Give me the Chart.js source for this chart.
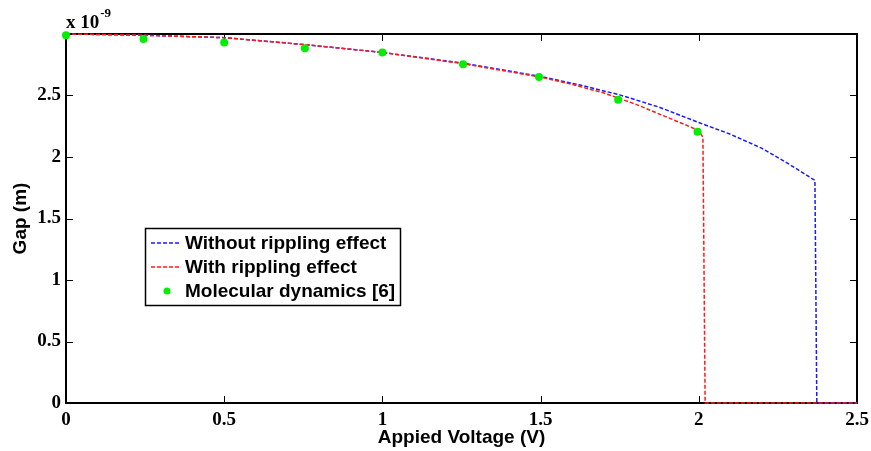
<!DOCTYPE html>
<html>
<head>
<meta charset="utf-8">
<script src="https://cdn.jsdelivr.net/npm/chart.js@4/dist/chart.umd.min.js"></script>
<style>
  html, body { margin: 0; padding: 0; background: #fff; }
  #wrap { width: 871px; height: 451px; }
</style>
</head>
<body>
<div id="wrap"><canvas id="gapChart" width="871" height="451"></canvas></div>
<script>
// gap values are in units of 1e-9 m (axis multiplier drawn as "x 10^-9")
const voltageNoRipple = [0, 0.25, 0.5, 0.75, 1.0, 1.25, 1.5, 1.625, 1.75, 1.875, 2.0, 2.1, 2.2, 2.28, 2.367, 2.373, 2.5];
const gapNoRipple     = [3.0, 2.99, 2.97, 2.915, 2.85, 2.765, 2.655, 2.585, 2.505, 2.405, 2.28, 2.185, 2.07, 1.95, 1.81, 0, 0];

const voltageRipple = [0, 0.25, 0.5, 0.75, 1.0, 1.25, 1.5, 1.6, 1.7, 1.8, 1.87, 1.95, 2.0, 2.013, 2.02, 2.5];
const gapRipple     = [3.0, 2.99, 2.97, 2.915, 2.85, 2.76, 2.65, 2.59, 2.52, 2.43, 2.355, 2.27, 2.215, 2.16, 0, 0];

const voltageMD = [0, 0.245, 0.5, 0.755, 1.0, 1.255, 1.495, 1.745, 1.996];
const gapMD     = [2.99, 2.96, 2.93, 2.885, 2.85, 2.755, 2.65, 2.465, 2.205];

const xTicks = [0, 0.5, 1, 1.5, 2, 2.5];
const yTicks = [0, 0.5, 1, 1.5, 2, 2.5, 3];

const seriesNames = ['Without rippling effect', 'With rippling effect', 'Molecular dynamics [6]'];
const seriesColors = ['#1a1aff', '#ff1a1a', '#00ee00'];

const toPoints = (xs, ys) => xs.map((x, i) => ({ x, y: ys[i] }));

// box, inward ticks on all four sides, exponent label, legend
const matlabAxes = {
  id: 'matlabAxes',
  beforeDatasetsDraw(chart) {
    const { ctx, chartArea: a, scales } = chart;
    ctx.save();
    ctx.strokeStyle = '#000';
    ctx.lineWidth = 1;
    ctx.beginPath();
    xTicks.forEach(v => {
      const px = Math.round(scales.x.getPixelForValue(v)) + 0.5;
      ctx.moveTo(px, a.bottom); ctx.lineTo(px, a.bottom - 7);
      ctx.moveTo(px, a.top); ctx.lineTo(px, a.top + 7);
    });
    yTicks.forEach(v => {
      const py = Math.round(scales.y.getPixelForValue(v)) + 0.5;
      ctx.moveTo(a.left, py); ctx.lineTo(a.left + 7, py);
      ctx.moveTo(a.right, py); ctx.lineTo(a.right - 7, py);
    });
    ctx.stroke();
    ctx.lineWidth = 2;
    ctx.strokeRect(a.left, a.top, a.right - a.left, a.bottom - a.top);

    ctx.fillStyle = '#000';
    ctx.textBaseline = 'alphabetic';
    ctx.textAlign = 'left';
    ctx.font = 'bold 19px "Liberation Serif"';
    ctx.fillText('x 10', a.left, 28);
    const w = ctx.measureText('x 10').width;
    ctx.font = 'bold 13px "Liberation Serif"';
    ctx.fillText('-9', a.left + w + 1, 17);
    ctx.restore();
  },
  afterDraw(chart) {
    const { ctx } = chart;
    const box = { x: 145, y: 228, w: 255, h: 77 };
    ctx.save();
    ctx.fillStyle = '#fff';
    ctx.fillRect(box.x, box.y, box.w, box.h);
    ctx.strokeStyle = '#000';
    ctx.lineWidth = 1.5;
    ctx.strokeRect(box.x + 0.5, box.y + 0.5, box.w, box.h);
    const rows = [243, 267, 291];
    ctx.font = 'bold 19px "Liberation Sans"';
    ctx.textBaseline = 'middle';
    ctx.textAlign = 'left';
    rows.forEach((ry, i) => {
      if (i < 2) {
        ctx.strokeStyle = seriesColors[i];
        ctx.lineWidth = 1.5;
        ctx.setLineDash([4, 2]);
        ctx.beginPath();
        ctx.moveTo(151, ry);
        ctx.lineTo(181, ry);
        ctx.stroke();
        ctx.setLineDash([]);
      } else {
        ctx.fillStyle = seriesColors[i];
        ctx.beginPath();
        ctx.arc(167, ry, 3.5, 0, Math.PI * 2);
        ctx.fill();
      }
      ctx.fillStyle = '#000';
      ctx.fillText(seriesNames[i], 185, ry + 1);
    });
    ctx.restore();
  }
};

new Chart(document.getElementById('gapChart').getContext('2d'), {
  type: 'scatter',
  data: {
    datasets: [
      {
        label: seriesNames[0],
        data: toPoints(voltageNoRipple, gapNoRipple),
        showLine: true,
        borderColor: seriesColors[0],
        borderWidth: 1.5,
        borderDash: [4, 2],
        pointRadius: 0,
        clip: false,
        order: 3
      },
      {
        label: seriesNames[1],
        data: toPoints(voltageRipple, gapRipple),
        showLine: true,
        borderColor: seriesColors[1],
        borderWidth: 1.5,
        borderDash: [4, 2],
        pointRadius: 0,
        clip: false,
        order: 2
      },
      {
        label: seriesNames[2],
        data: toPoints(voltageMD, gapMD),
        showLine: false,
        pointRadius: 4,
        pointBackgroundColor: seriesColors[2],
        pointBorderWidth: 0,
        borderColor: seriesColors[2],
        clip: false,
        order: 1
      }
    ]
  },
  options: {
    responsive: false,
    animation: false,
    layout: { padding: { top: 34, right: 14, left: 0, bottom: 0 } },
    plugins: { legend: { display: false }, tooltip: { enabled: false } },
    scales: {
      x: {
        type: 'linear',
        min: 0,
        max: 2.5,
        afterFit: s => { s.height = 48; s.paddingLeft = 0; s.paddingRight = 0; },
        afterBuildTicks: s => { s.ticks = xTicks.map(v => ({ value: v })); },
        grid: { display: false, drawTicks: false },
        border: { display: false },
        ticks: {
          padding: 6,
          color: '#000',
          maxRotation: 0,
          font: { family: '"Liberation Serif"', size: 19, weight: 'bold' },
          callback: v => String(v)
        },
        title: {
          display: true,
          text: 'Appied Voltage (V)',
          color: '#000',
          padding: 2,
          font: { family: '"Liberation Sans"', size: 19, weight: 'bold' }
        }
      },
      y: {
        type: 'linear',
        min: 0,
        max: 3,
        afterFit: s => { s.width = 66; s.paddingTop = 0; s.paddingBottom = 0; },
        afterBuildTicks: s => { s.ticks = yTicks.map(v => ({ value: v })); },
        grid: { display: false, drawTicks: false },
        border: { display: false },
        ticks: {
          padding: 5,
          color: '#000',
          font: { family: '"Liberation Serif"', size: 19, weight: 'bold' },
          callback: v => (v === 3 ? '' : String(v))
        },
        title: {
          display: true,
          text: 'Gap (m)',
          color: '#000',
          padding: 9,
          font: { family: '"Liberation Sans"', size: 19, weight: 'bold' }
        }
      }
    }
  },
  plugins: [matlabAxes]
});
</script>
</body>
</html>
